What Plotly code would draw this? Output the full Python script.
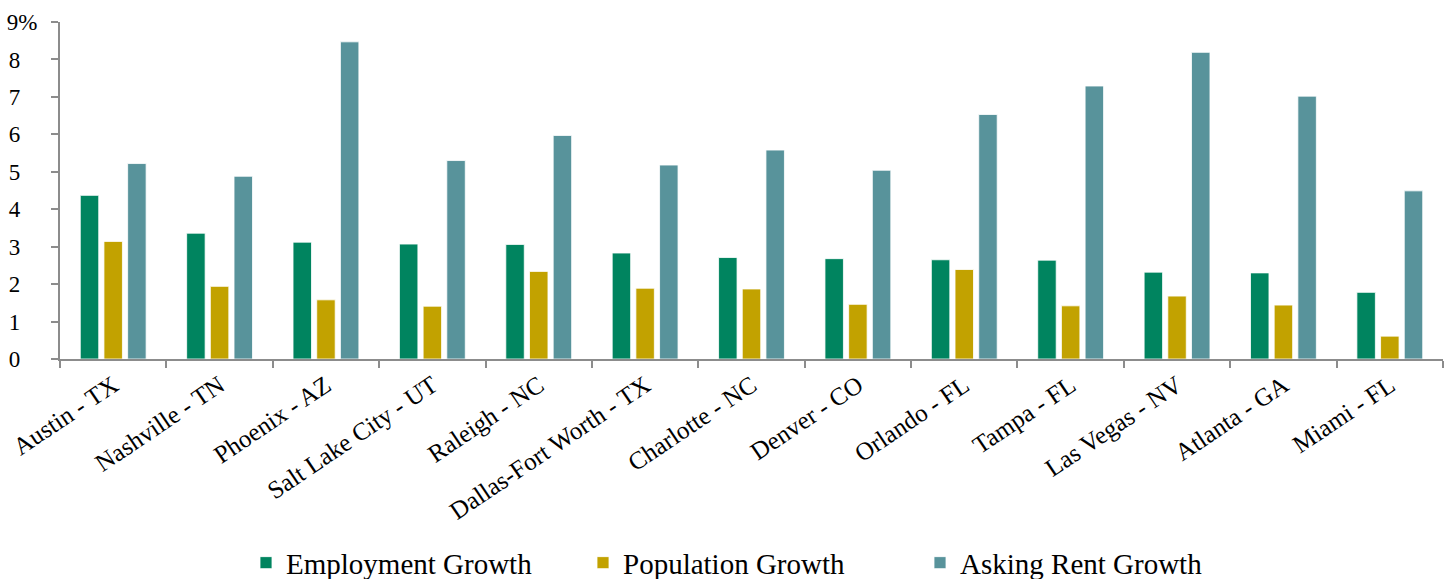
import plotly.graph_objects as go

categories = ["Austin - TX", "Nashville - TN", "Phoenix - AZ", "Salt Lake City - UT",
              "Raleigh - NC", "Dallas-Fort Worth - TX", "Charlotte - NC", "Denver - CO",
              "Orlando - FL", "Tampa - FL", "Las Vegas - NV", "Atlanta - GA", "Miami - FL"]
employment = [4.37, 3.36, 3.12, 3.07, 3.06, 2.83, 2.71, 2.68, 2.65, 2.64, 2.32, 2.30, 1.78]
population = [3.14, 1.94, 1.58, 1.41, 2.34, 1.89, 1.87, 1.46, 2.39, 1.42, 1.68, 1.44, 0.61]
rent = [5.22, 4.88, 8.47, 5.30, 5.97, 5.18, 5.58, 5.04, 6.53, 7.29, 8.19, 7.02, 4.49]

series_names = ["Employment Growth", "Population Growth", "Asking Rent Growth"]
colors = ["#00845F", "#C2A200", "#58939B"]

y_tickvals = [0, 1, 2, 3, 4, 5, 6, 7, 8, 9]
y_ticktext = [f"{v}\u00a0\u00a0\u00a0" for v in y_tickvals[:-1]] + ["9%"]

font_family = "Liberation Serif, Times New Roman, serif"

fig = go.Figure()
for name, vals, col in zip(series_names, [employment, population, rent], colors):
    fig.add_trace(go.Bar(
        x=categories, y=vals, name=name,
        marker=dict(color=col, line=dict(color="rgba(255,255,255,0.8)", width=1)),
    ))

fig.update_layout(
    width=1450, height=579,
    margin=dict(l=60, r=7, t=22, b=220, autoexpand=False),
    paper_bgcolor="white", plot_bgcolor="white",
    barmode="group", bargap=0.332, bargroupgap=0.22,
    font=dict(family=font_family, color="black"),
    showlegend=True,
    legend=dict(orientation="h", x=0.5, xanchor="center",
                yref="container", y=0.028, yanchor="middle",
                font=dict(size=29, family=font_family), entrywidth=292,
                bgcolor="rgba(0,0,0,0)"),
)
fig.update_xaxes(
    showline=True, linecolor="#8C8C8C", linewidth=2,
    ticks="outside", tickson="boundaries", ticklen=7, tickwidth=2, tickcolor="#8C8C8C",
    tickangle=-34, tickfont=dict(size=25, family=font_family),
    showgrid=False, zeroline=False, automargin=False,
)
fig.update_yaxes(
    range=[0, 9], tickvals=y_tickvals, ticktext=y_ticktext,
    showline=True, linecolor="#8C8C8C", linewidth=2,
    ticks="outside", ticklen=7, tickwidth=2, tickcolor="#8C8C8C",
    tickfont=dict(size=23, family=font_family), ticklabelstandoff=9,
    showgrid=False, zeroline=False, automargin=False,
)

fig.write_html("out.html")
